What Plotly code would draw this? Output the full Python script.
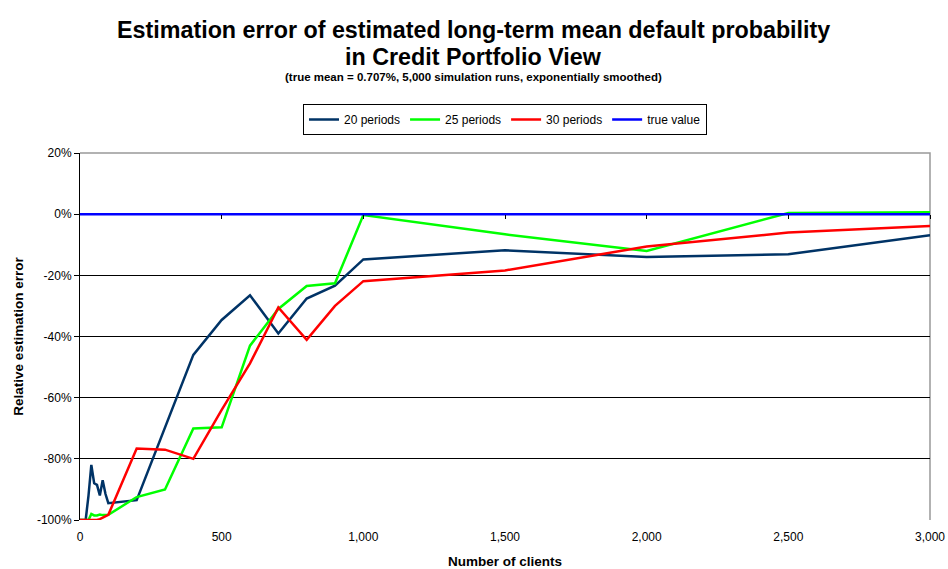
import plotly.graph_objects as go

x_clients = [0, 10, 20, 30, 40, 50, 60, 70, 80, 90, 100, 200, 300, 400, 500,
             600, 700, 800, 900, 1000, 1500, 2000, 2500, 3000]

err_20 = [-100, -100, -100, -92, -82, -88, -88.5, -92, -87, -91.5, -94.5, -93.5, -70, -46, -34.6,
          -26.5, -39, -27.6, -23.4, -14.8, -11.8, -14, -13.1, -6.9]
err_25 = [-100, -100, -100, -100, -98, -98.5, -98.5, -98.2, -98.4, -98.3, -98.3, -92.5, -90, -70.1, -69.7,
          -43, -31, -23.5, -22.6, -0.3, -6.6, -12, 0.4, 0.6]
err_30 = [-100, -100, -100, -100, -100, -100, -100, -99.7, -99.2, -98.7, -98.3, -76.6, -77, -80, -64,
          -48.8, -30.5, -41.1, -30, -21.9, -18.4, -10.6, -6, -3.9]
true_x = [0, 3000]
true_val = [0, 0]

x_ticks = [0, 500, 1000, 1500, 2000, 2500, 3000]
x_ticklabels = ["0", "500", "1,000", "1,500", "2,000", "2,500", "3,000"]
y_ticks = [20, 0, -20, -40, -60, -80, -100]
y_ticklabels = ["20%", "0%", "-20%", "-40%", "-60%", "-80%", "-100%"]

FONT = "Arial, Liberation Sans, sans-serif"

fig = go.Figure()
fig.add_trace(go.Scatter(x=x_clients, y=err_20, mode="lines", name="20 periods",
                         line=dict(color="#003366", width=2.5)))
fig.add_trace(go.Scatter(x=x_clients, y=err_25, mode="lines", name="25 periods",
                         line=dict(color="#00FF00", width=2.5)))
fig.add_trace(go.Scatter(x=x_clients, y=err_30, mode="lines", name="30 periods",
                         line=dict(color="#FF0000", width=2.5)))
fig.add_trace(go.Scatter(x=true_x, y=true_val, mode="lines", name="true value",
                         line=dict(color="#0000FF", width=2.5), xaxis="x2"))

TOP = 153
PH = 520 - TOP
CX = (473 - 80) / 850

fig.update_layout(
    width=948, height=569,
    margin=dict(l=80, r=18, t=TOP, b=49),
    paper_bgcolor="white", plot_bgcolor="white",
    font=dict(family=FONT, size=12, color="black"),
    showlegend=True,
    legend=dict(orientation="h", x=0.5, xanchor="center", y=(520 - 119.5) / PH, yanchor="middle",
                bordercolor="black", borderwidth=1, font=dict(size=12),
                itemwidth=30, tracegroupgap=0),
    xaxis=dict(range=[0, 3000], tickvals=x_ticks, ticktext=x_ticklabels, automargin=False,
               showgrid=False, zeroline=False, showline=False, ticks="",
               tickfont=dict(size=12), ticklabelstandoff=8,
               title=dict(text="<b>Number of clients</b>", font=dict(size=13.5), standoff=14)),
    xaxis2=dict(range=[0, 3000], overlaying="x", anchor="free", position=100 / 120,
                tickvals=x_ticks[1:], showticklabels=False, automargin=False,
                ticks="outside", ticklen=4, tickcolor="black", tickwidth=1,
                showgrid=False, zeroline=False, showline=False),
    yaxis=dict(range=[-100, 20], tickvals=y_ticks, ticktext=y_ticklabels, automargin=False,
               showgrid=True, gridcolor="black", gridwidth=1, zeroline=False,
               showline=True, linecolor="black", linewidth=1,
               ticks="outside", ticklen=5, tickcolor="black",
               tickfont=dict(size=12),
               title=dict(text="<b>Relative estimation error</b>", font=dict(size=13.5), standoff=10)),
    shapes=[dict(type="path", xref="paper", yref="paper", path="M 0,1 L 1,1 L 1,0",
                 line=dict(color="#999999", width=1.5), layer="below")],
    annotations=[
        dict(text="<b>Estimation error of estimated long-term mean default probability</b>",
             xref="paper", yref="paper", x=CX, y=(520 - 30) / PH, xanchor="center",
             yanchor="middle", showarrow=False, font=dict(size=23.3)),
        dict(text="<b>in Credit Portfolio View</b>",
             xref="paper", yref="paper", x=CX, y=(520 - 57) / PH, xanchor="center",
             yanchor="middle", showarrow=False, font=dict(size=23.3)),
        dict(text="<b>(true mean = 0.707%, 5,000 simulation runs, exponentially smoothed)</b>",
             xref="paper", yref="paper", x=CX, y=(520 - 77) / PH, xanchor="center",
             yanchor="middle", showarrow=False, font=dict(size=11.5)),
    ],
)

fig.write_html("out.html", config={"displayModeBar": False},
               post_script="document.body.style.margin='0';")
